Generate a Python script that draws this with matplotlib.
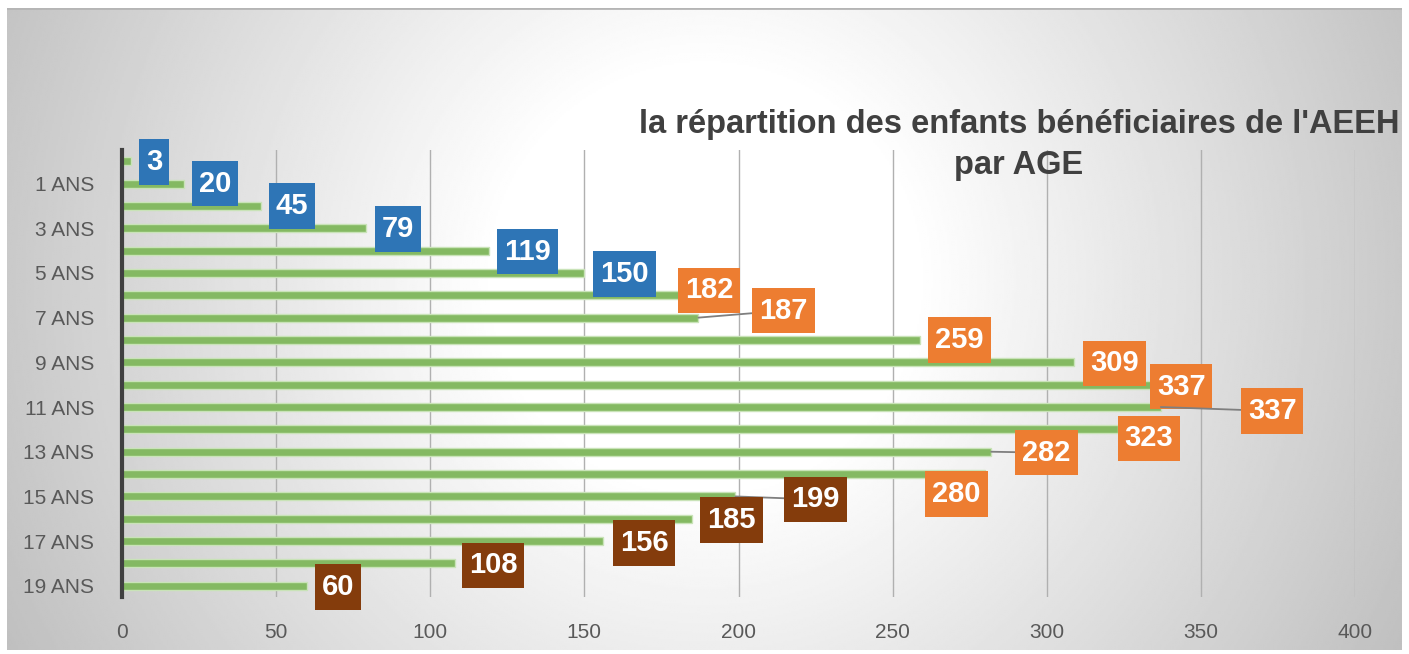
import numpy as np
import matplotlib
matplotlib.use("Agg")
from matplotlib import pyplot as plt
from matplotlib.path import Path

# data
ages = [f"{i} ANS" for i in range(20)]
values = [3, 20, 45, 79, 119, 150, 182, 187, 259, 309,
          337, 337, 323, 282, 280, 199, 185, 156, 108, 60]
x_ticks = [0, 50, 100, 150, 200, 250, 300, 350, 400]

# label boxes: colour groups and hand nudges (px) like the original
group_sizes = [6, 9, 5]
group_colors = ["#2E75B6", "#ED7D31", "#843C0C"]
nudges = [(8, 1), (8, 0), (8, 0), (9, 1), (8, 1), (9, 1), (-5, -5), (54, -7),
          (8, 0), (9, 1), (-11, 2), (80, 4), (0, 9), (24, 1), (-60, 20),
          (49, 3), (8, 1), (10, 2), (7, 2), (8, 1)]
leaders = {7, 11, 13, 15}

plt.rcParams['font.family'] = ['Liberation Sans', 'DejaVu Sans']

W, H = 1409, 654
fig = plt.figure(figsize=(W / 100, H / 100), dpi=100)
fig.patch.set_facecolor('white')

# radial gradient background of the chart area
bg = fig.add_axes([7 / W, 4 / H, 1395 / W, 642 / H], zorder=0)
gw, gh = 700, 322
yy, xx = np.mgrid[0:gh, 0:gw]
d = np.hypot(xx - gw / 2, yy - gh * 0.42) / (gw / 2)
shade = np.clip(1 - 0.21 * (d - 0.3) / 0.7, 0.75, 1.0)
bg.imshow(shade, cmap='gray', vmin=0, vmax=1, aspect='auto',
          extent=[0, 1, 0, 1], interpolation='bilinear')
bg.set_xticks([])
bg.set_yticks([])
for s in bg.spines.values():
    s.set_visible(False)
bg.plot([0, 1], [1, 1], color='#b5b5b5', lw=2, transform=bg.transAxes)

ax = fig.add_axes([122 / W, 57 / H, 1233 / W, 447 / H], zorder=1)
ax.patch.set_alpha(0)

rows = np.arange(len(values))
ax.barh(rows, values, height=0.36, color='#84B962', edgecolor='#C9E3B8',
        linewidth=1, zorder=3)

ax.set_ylim(19.5, -0.5)
ax.set_xlim(0, 400)
ax.set_xticks(x_ticks)
ax.set_yticks(rows[1::2])
ax.set_yticklabels(ages[1::2])
ax.tick_params(axis='both', length=0, labelsize=15, colors='#595959')
ax.tick_params(axis='y', pad=20)
ax.tick_params(axis='x', pad=19)
ax.grid(axis='x', color='#b0b0b0', lw=1, zorder=1)
for s in ['top', 'right', 'bottom']:
    ax.spines[s].set_visible(False)
ax.spines['left'].set_color('#404040')
ax.spines['left'].set_linewidth(3)
ax.spines['left'].set_zorder(4)

label_colors = []
for n, c in zip(group_sizes, group_colors):
    label_colors += [c] * n

PX, PY = 0.24, 0.30


def label_box(x0, y0, width, height, mutation_size):
    # taller than wide padding, like the Excel data label boxes
    px, py = PX * mutation_size, PY * mutation_size
    x0, y0 = x0 - px, y0 - py
    x1, y1 = x0 + width + 2 * px, y0 + height + 2 * py
    return Path([(x0, y0), (x1, y0), (x1, y1), (x0, y1), (x0, y0)], closed=True)


fs = 21
pad_px = fs * PX * 100 / 72
for i, v in enumerate(values):
    dx, dy = nudges[i]
    arrow = None
    if i in leaders:
        arrow = dict(arrowstyle='-', color='#7f7f7f', lw=1.3,
                     shrinkA=0, shrinkB=0)
    ax.annotate(str(v), xy=(v, i), xytext=(dx + pad_px, -dy),
                textcoords='offset pixels', ha='left', va='center',
                fontsize=fs, fontweight='bold', color='white',
                bbox=dict(boxstyle=label_box, fc=label_colors[i], ec='none'),
                arrowprops=arrow, annotation_clip=False, zorder=5)

fig.text(1019 / W, 1 - 145 / H,
         "la répartition des enfants bénéficiaires de l'AEEH\npar AGE",
         ha='center', va='center', fontsize=23.5, fontweight='bold',
         color='#404040', linespacing=1.4)

fig.savefig('out.png', dpi=100)
